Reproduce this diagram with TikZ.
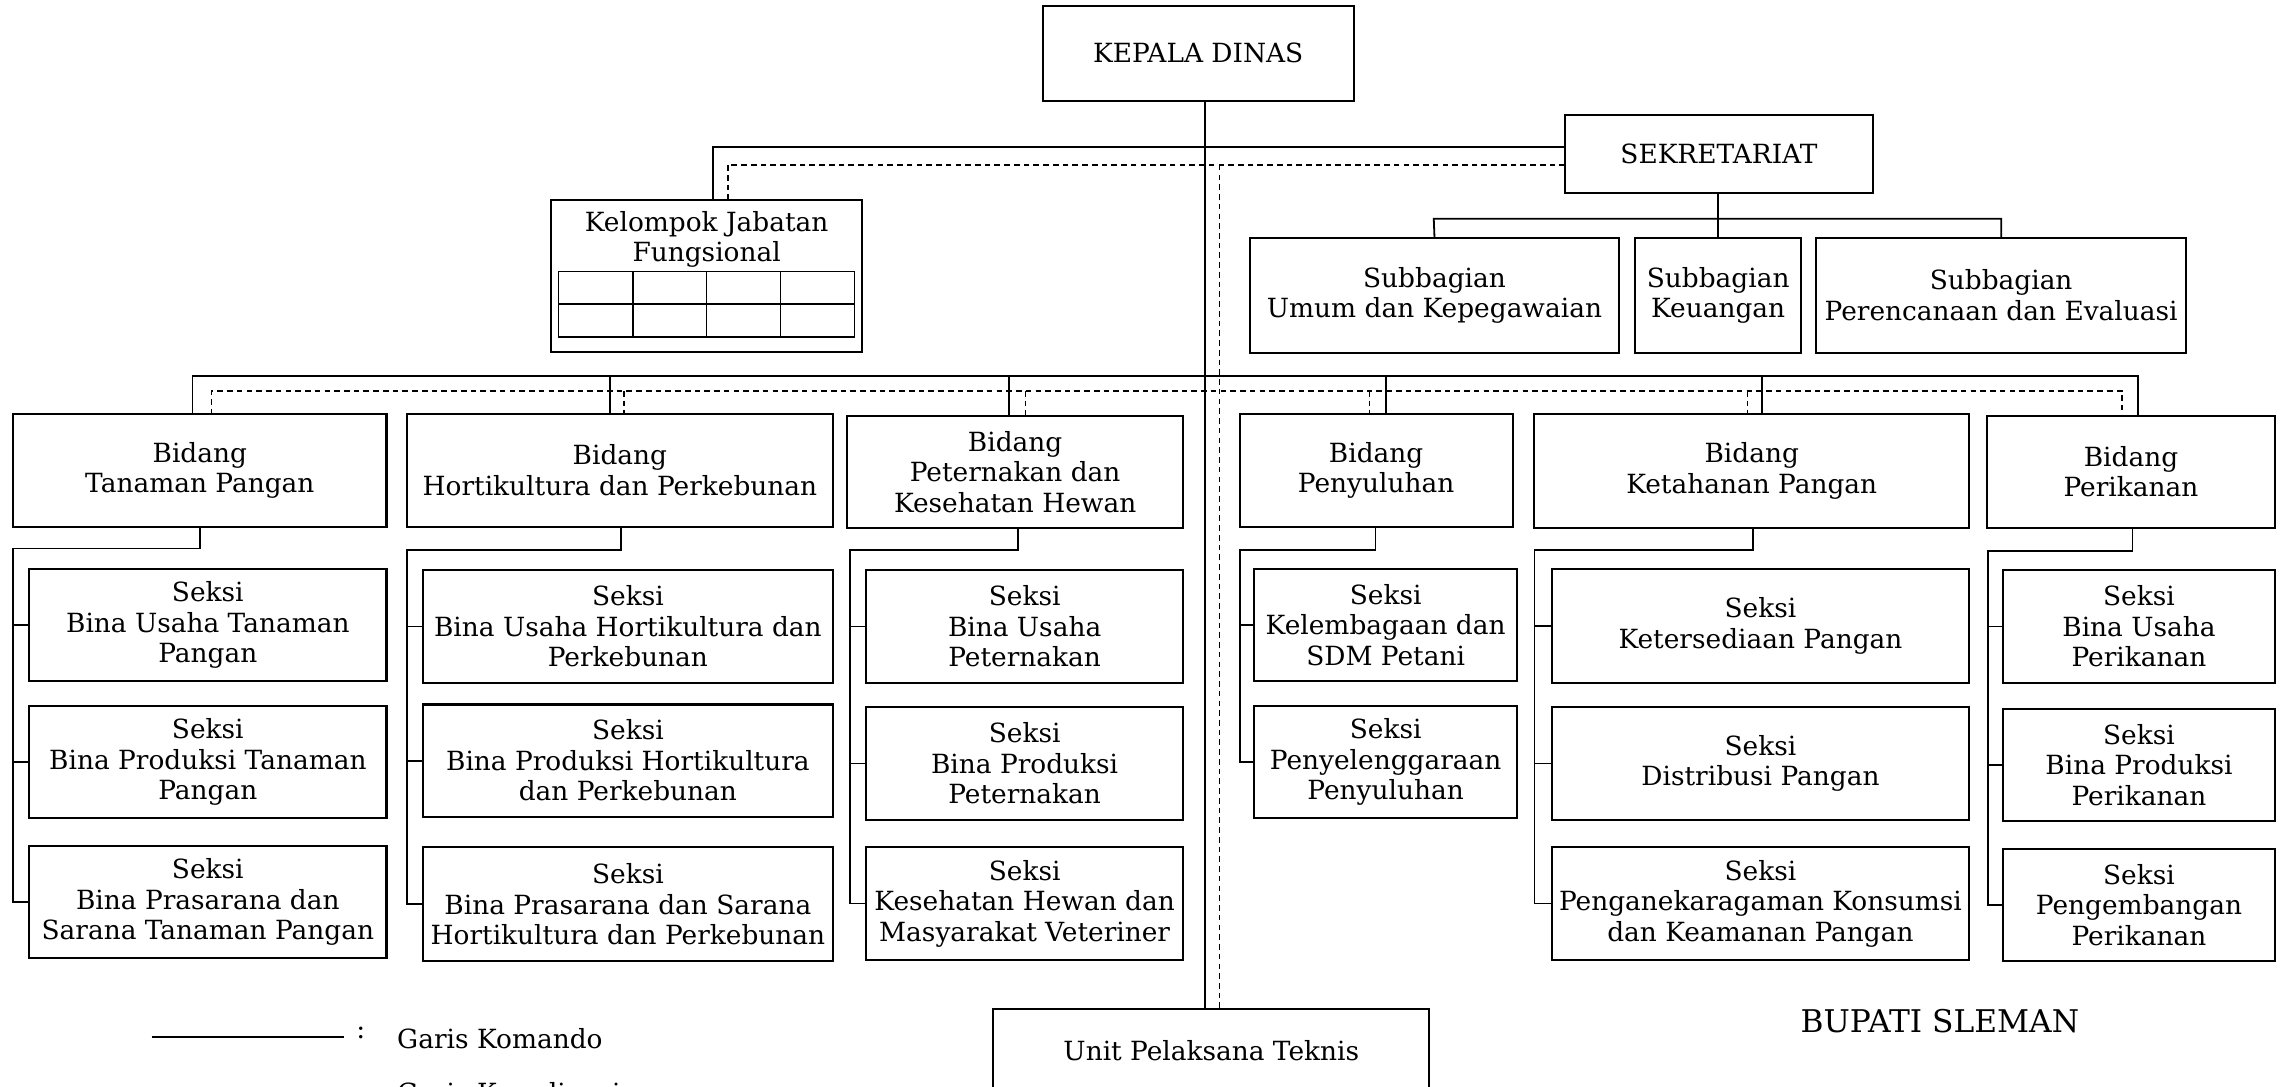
\documentclass[tikz,border=0pt]{standalone}
\usepackage{fontspec}
\setmainfont{DejaVu Serif}
\newcommand\mainfs{\fontsize{10.3}{11.9}\selectfont}
\tikzset{
  box/.style={draw, line width=0.8pt, align=center, inner sep=0pt, outer sep=0pt, font=\mainfs},
  cmd/.style={line width=0.7pt},
  crd/.style={line width=0.65pt, dash pattern=on 2.2pt off 1.6pt},
  lbl/.style={font=\mainfs, inner sep=0pt},
}
\newcommand\ob[6]{\node[box, minimum width={(#4-#2)*0.2mm}, minimum height={(#5-#3)*0.2mm}] (#1) at ({(#2+#4)/2},{(#3+#5)/2}) {#6};}
\newcommand\branch[6]{%
  \draw[cmd] (#1.south -| #2,0) -- (#2,#3) -- (#4,#3) |- (#5.west);
  \foreach \s in {#6} \draw[cmd] (\s.west -| #4,0) -- (\s.west);}
\begin{document}
\begin{tikzpicture}[x=0.2mm, y=-0.2mm]
\useasboundingbox (0,0) rectangle (1568,745);
% top
\ob{kd}{715}{4}{928}{69}{KEPALA DINAS}
\ob{sek}{1073}{79}{1284}{132}{SEKRETARIAT}
\ob{kjf}{378}{137}{591}{241}{}
\node[lbl, align=center] (kjft) at (484.5,164) {Kelompok Jabatan\\Fungsional};
\draw[line width=0.5pt] (383,186) rectangle (586,231);
\draw[line width=0.5pt] (383,208.5) -- (586,208.5);
\foreach \xx in {434,484.5,535} \draw[line width=0.5pt] (\xx,186) -- (\xx,231);
\ob{sub1}{857}{163}{1110}{242}{Subbagian\\Umum dan Kepegawaian}
\ob{sub2}{1121}{163}{1235}{242}{Subbagian\\Keuangan}
\ob{sub3}{1245}{163}{1499}{242}{Subbagian\\Perencanaan dan Evaluasi}
% bidang
\ob{b1}{9}{284}{265}{361}{Bidang\\Tanaman Pangan}
\ob{b2}{279}{284}{571}{361}{Bidang\\Hortikultura dan Perkebunan}
\ob{b3}{581}{285}{811}{362}{Bidang\\Peternakan dan\\Kesehatan Hewan}
\ob{b4}{850}{284}{1037}{361}{Bidang\\Penyuluhan}
\ob{b5}{1052}{284}{1350}{362}{Bidang\\Ketahanan Pangan}
\ob{b6}{1362}{285}{1560}{362}{Bidang\\Perikanan}
% seksi col 1
\ob{s11}{20}{390}{265}{467}{Seksi\\Bina Usaha Tanaman\\Pangan}
\ob{s12}{20}{484}{265}{561}{Seksi\\Bina Produksi Tanaman\\Pangan}
\ob{s13}{20}{580}{265}{657}{Seksi\\Bina Prasarana dan\\Sarana Tanaman Pangan}
% col 2
\ob{s21}{290}{391}{571}{468}{Seksi\\Bina Usaha Hortikultura dan\\Perkebunan}
\ob{s22}{290}{483}{571}{560}{Seksi\\Bina Produksi Hortikultura\\dan Perkebunan}
\ob{s23}{290}{581}{571}{659}{Seksi\\Bina Prasarana dan Sarana\\Hortikultura dan Perkebunan}
% col 3
\ob{s31}{594}{391}{811}{468}{Seksi\\Bina Usaha\\Peternakan}
\ob{s32}{594}{485}{811}{562}{Seksi\\Bina Produksi\\Peternakan}
\ob{s33}{594}{581}{811}{658}{Seksi\\Kesehatan Hewan dan\\Masyarakat Veteriner}
% col 4
\ob{s41}{860}{390}{1040}{467}{Seksi\\Kelembagaan dan\\SDM Petani}
\ob{s42}{860}{484}{1040}{561}{Seksi\\Penyelenggaraan\\Penyuluhan}
% col 5
\ob{s51}{1064}{390}{1350}{468}{Seksi\\Ketersediaan Pangan}
\ob{s52}{1064}{485}{1350}{562}{Seksi\\Distribusi Pangan}
\ob{s53}{1064}{581}{1350}{658}{Seksi\\Penganekaragaman Konsumsi\\dan Keamanan Pangan}
% col 6
\ob{s61}{1373}{391}{1560}{468}{Seksi\\Bina Usaha\\Perikanan}
\ob{s62}{1373}{486}{1560}{563}{Seksi\\Bina Produksi\\Perikanan}
\ob{s63}{1373}{582}{1560}{659}{Seksi\\Pengembangan\\Perikanan}
% UPT
\ob{upt}{681}{692}{980}{748}{Unit Pelaksana Teknis}
% trunk
\draw[cmd] (kd.south -| 826,0) -- (upt.north -| 826,0);
\draw[crd] (836,113) -- (upt.north -| 836,0);
\draw[cmd] (sek.west |- 0,101) -- (489,101) -- (kjf.north -| 489,0);
\draw[crd] (sek.west |- 0,113) -| (kjf.north -| 499,0);
% sekretariat
\draw[cmd] (sek.south -| sub2.north) -- (sub2.north);
\draw[cmd] (sub1.north) -- (983,150) -| (sub3.north);
% bidang bus
\draw[cmd] (b1.north -| 132,0) -- (132,258) -- (1466,258) -- (b6.north -| 1466,0);
\draw[cmd] (418,258) -- (b2.north -| 418,0);
\draw[cmd] (692,258) -- (b3.north -| 692,0);
\draw[cmd] (950,258) -- (b4.north -| 950,0);
\draw[cmd] (1208,258) -- (b5.north -| 1208,0);
\draw[crd] (b1.north -| 145,0) -- (145,268) -- (1455,268) -- (b6.north -| 1455,0);
\draw[crd] (428,268) -- (b2.north -| 428,0);
\draw[crd] (703,268) -- (b3.north -| 703,0);
\draw[crd] (939,268) -- (b4.north -| 939,0);
\draw[crd] (1198,268) -- (b5.north -| 1198,0);
% branches
\branch{b1}{137}{376}{9}{s13}{s11,s12}
\branch{b2}{426}{377}{279}{s23}{s21,s22}
\branch{b3}{698}{377}{583}{s33}{s31,s32}
\branch{b4}{943}{377}{850}{s42}{s41}
\branch{b5}{1202}{377}{1052}{s53}{s51,s52}
\branch{b6}{1462}{378}{1363}{s63}{s61,s62}
% legend
\draw[cmd] (104,711) -- (236,711);
\node[lbl, anchor=base west] (colon1) at (244,712) {:};
\node[lbl, anchor=base west] (lg1) at (272,719) {Garis Komando};
\node[lbl, anchor=base west] (lg2) at (272,756) {Garis Koordinasi};
\node[inner sep=0pt, font=\fontsize{12.2}{14}\selectfont] (bupati) at (1330,700) {BUPATI SLEMAN};
\end{tikzpicture}
\end{document}
